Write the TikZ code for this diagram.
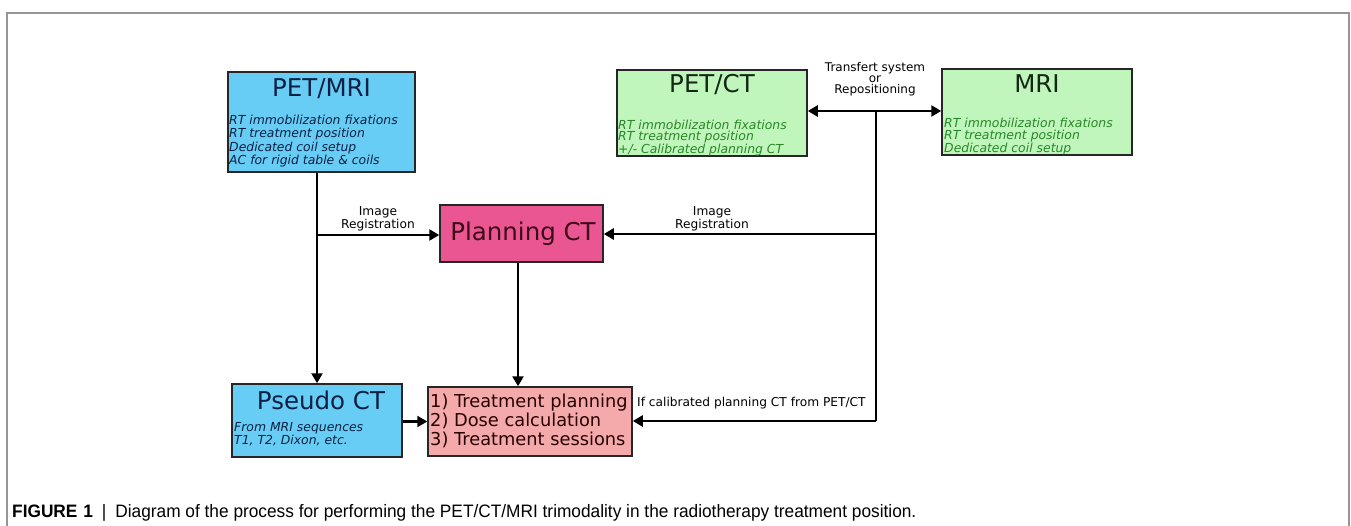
\documentclass[tikz,border=0pt]{standalone}
\usepackage{fontspec}
\setmainfont{DejaVu Sans}
\newfontfamily\capfont[FakeStretch=0.96]{Liberation Sans}
\usetikzlibrary{arrows.meta}
\definecolor{boxblue}{RGB}{104,205,244}
\definecolor{boxgreen}{RGB}{192,245,188}
\definecolor{boxpink}{RGB}{234,86,146}
\definecolor{boxsalmon}{RGB}{244,170,170}
\definecolor{txtnavy}{RGB}{12,32,70}
\definecolor{txtgreen}{RGB}{40,135,40}
\definecolor{txtdkgreen}{RGB}{20,40,20}
\definecolor{txtmaroon}{RGB}{60,10,25}
\definecolor{txttreat}{RGB}{40,0,0}
\definecolor{framegray}{RGB}{150,150,150}
\begin{document}
\begin{tikzpicture}[x=1pt,y=-1pt,
  box/.style={draw=black!85, line width=1.5pt, inner sep=0pt},
  title/.style={inner sep=0pt, font=\fontsize{24.5}{28}\selectfont},
  body/.style={inner sep=0pt, anchor=north west, align=left, font=\itshape\fontsize{12.4}{13.2}\selectfont},
  lbl/.style={inner sep=0pt, align=center, font=\fontsize{12.2}{12.5}\selectfont},
  conn/.style={line width=2.8pt, -{Triangle[length=10pt,width=11pt]}},
  plain/.style={line width=2.8pt}
]
\useasboundingbox (0,0) rectangle (1351,526);
\fill[white] (0,0) rectangle (1351,526);
% frame
\draw[framegray, line width=1.5pt] (7,526) -- (7,13) -- (1349,13) -- (1349,526);

% PET/MRI
\node[box, fill=boxblue, minimum width=187pt, minimum height=100pt] (petmri) at (321.5,122) {};
\node[title, text=txtnavy] (petmrit) at (321.5,89) {PET/MRI};
\node[body, text=txtnavy] (petmrib) at (229,115) {RT immobilization fixations\\RT treatment position\\Dedicated coil setup\\AC for rigid table \& coils};

% PET/CT
\node[box, fill=boxgreen, minimum width=190pt, minimum height=86pt] (petct) at (712,113) {};
\node[title, text=txtdkgreen] (petctt) at (712,84.5) {PET/CT};
\node[body, text=txtgreen, font=\itshape\fontsize{12.4}{11.7}\selectfont] (petctb) at (618,119.5) {RT immobilization fixations\\RT treatment position\\+/- Calibrated planning CT};

% MRI
\node[box, fill=boxgreen, minimum width=190pt, minimum height=86pt] (mri) at (1037,112) {};
\node[title, text=txtdkgreen] (mrit) at (1037,84) {MRI};
\node[body, text=txtgreen, font=\itshape\fontsize{12.4}{12}\selectfont] (mrib) at (944,118) {RT immobilization fixations\\RT treatment position\\Dedicated coil setup};

% transfer label
\node[lbl, font=\fontsize{12}{11}\selectfont] (transf) at (875,79.5) {Transfert system\\or\\Repositioning};
\coordinate (hub) at (876,111);
\draw[line width=2.8pt, {Triangle[length=10pt,width=11pt]}-{Triangle[length=10pt,width=11pt]}] (petct.east |- hub) -- (mri.west |- hub);

% Planning CT
\node[box, fill=boxpink, minimum width=163pt, minimum height=57pt] (plan) at (521.5,233.5) {};
\node[title, text=txtmaroon] (plant) at (523,234) {Planning CT};

% Pseudo CT
\node[box, fill=boxblue, minimum width=170pt, minimum height=73pt] (pseudo) at (317,420.5) {};
\node[title, text=txtnavy] (pseudot) at (321,400) {Pseudo CT};
\node[body, text=txtnavy, font=\itshape\fontsize{12.4}{12.4}\selectfont] (pseudob) at (234,422.5) {From MRI sequences\\T1, T2, Dixon, etc.};

% Treatment
\node[box, fill=boxsalmon, minimum width=204pt, minimum height=69pt] (treat) at (530,421.5) {};
\node[inner sep=0pt, anchor=west, align=left, text=txttreat, font=\fontsize{17.8}{19}\selectfont] (treatt) at (430,421) {1) Treatment planning\\2) Dose calculation\\3) Treatment sessions};

% coordinates on the right bus
\coordinate (regR) at (876,234);
\coordinate (calR) at (876,421);
\coordinate (regL) at (317,235);

% connectors
\draw[plain] (hub) -- (calR);
\draw[plain] (pseudo.north |- petmri.south) -- (regL);
\draw[conn] (regL) -- (pseudo.north);
\draw[conn] (regL) -- (plan.west |- regL);
\draw[conn] (regR) -- (plan.east |- regR);
\draw[conn] (calR) -- (treat.east |- calR);
\draw[conn] (pseudo.east |- treat.west) -- (treat.west);
\draw[conn] (plan.south -| 518,0) -- (treat.north -| 518,0);

% labels
\node[lbl] (reglblL) at (378,219) {Image\\Registration};
\node[lbl] (reglblR) at (712,219) {Image\\Registration};
\node[lbl, anchor=west] (callbl) at (637,403) {If calibrated planning CT from PET/CT};

% caption
\node[inner sep=0pt, anchor=base west, font=\capfont\fontsize{18}{20}\selectfont] (caption) at (12,517) {\textbf{FIGURE\hspace{1pt} 1}\hspace{9pt}|\hspace{9pt}Diagram of the process for performing the PET/CT/MRI trimodality in the radiotherapy treatment position.};
\end{tikzpicture}
\end{document}
